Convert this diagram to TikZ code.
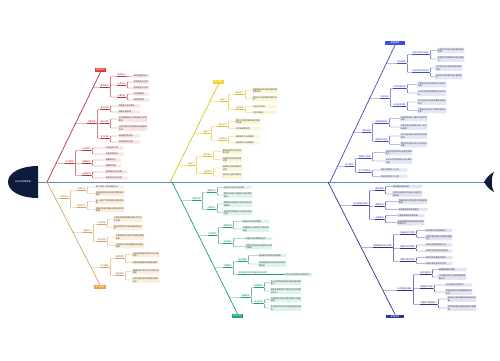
\documentclass[tikz,border=0pt]{standalone}
\usepackage{fontspec}
\setmainfont{Noto Sans CJK SC}
\XeTeXlinebreaklocale "zh"
\XeTeXlinebreakskip = 0pt plus 0.5pt
\usepackage{xcolor}
\usepackage{tikz}

\definecolor{headc}{HTML}{0F1B3D}
\definecolor{spinec}{HTML}{5B8CC2}
\definecolor{rline}{HTML}{B8373A}
\definecolor{rtagc}{HTML}{E53935}
\definecolor{rfill}{HTML}{FBE3E3}
\definecolor{oline}{HTML}{D9A462}
\definecolor{otagc}{HTML}{F2A23C}
\definecolor{ofill}{HTML}{FDEEDC}
\definecolor{yline}{HTML}{E2C21F}
\definecolor{ytagc}{HTML}{F5D324}
\definecolor{yfill}{HTML}{FCF6D6}
\definecolor{gline}{HTML}{1E9E78}
\definecolor{gtagc}{HTML}{16A57A}
\definecolor{gfill}{HTML}{DDF4EA}
\definecolor{bline}{HTML}{3F4EBF}
\definecolor{btagc}{HTML}{3E4FD6}
\definecolor{bfill}{HTML}{E3E7FA}
\definecolor{nline}{HTML}{2E3192}
\definecolor{ntagc}{HTML}{2B3399}
\definecolor{nfill}{HTML}{E2E3F5}

\begin{document}
\begin{tikzpicture}[
  x=1pt, y=-1pt,
  font=\fontsize{2}{2.5}\selectfont,
  tag/.style={fill=#1, text=white, inner xsep=1.2pt, inner ysep=0.9pt, font=\fontsize{2.2}{2.6}\selectfont},
  bone/.style={draw=#1, line width=0.7pt},
  lnk/.style={draw=#1, line width=0.35pt, rounded corners=0.8pt},
  mid/.style={anchor=south west, inner xsep=0.4pt, inner ysep=0.5pt, text=#1!65!black,
    append after command={(\tikzlastnode.south west) edge[draw=#1, line width=0.35pt] (\tikzlastnode.south east)}},
  leaf/.style={anchor=west, fill=#1, rounded corners=0.4pt, inner sep=0.6pt, align=left, text width=26pt, text=black!75},
  rmid/.style={mid=rline}, rl/.style={lnk=rline}, rleaf/.style={leaf=rfill},
  omid/.style={mid=oline}, ol/.style={lnk=oline}, oleaf/.style={leaf=ofill},
  ymid/.style={mid=yline}, yl/.style={lnk=yline}, yleaf/.style={leaf=yfill},
  gmid/.style={mid=gline}, gl/.style={lnk=gline}, gleaf/.style={leaf=gfill},
  bmid/.style={mid=bline}, bl/.style={lnk=bline}, bleaf/.style={leaf=bfill},
  nmid/.style={mid=nline}, nl/.style={lnk=nline}, nleaf/.style={leaf=nfill}
]
\fill[white] (0,0) rectangle (500,360);
\useasboundingbox (0,0) rectangle (500,360);

% spine, head and tail
\coordinate (sp) at (38,182);
\coordinate (tl) at (486,182);
\draw[spinec, line width=0.6pt] (sp) -- (tl);
\fill[headc] (38,166) -- (38,198) .. controls (20,198) and (8,191) .. (8,182) .. controls (8,173) and (20,166) .. (38,166);
\node[text=white, font=\fontsize{2.2}{2.6}\selectfont] (hd) at (23,182) {知识点思维导图};
\fill[headc] (484,182) .. controls (487,177) and (490,174) .. (494,172) .. controls (491,177) and (491,187) .. (494,192) .. controls (490,190) and (487,187) .. (484,182);

% ---------------- red
\coordinate (rj) at (47,182);
\node[tag=rtagc] (r) at (100.5,70) {基础知识};
\draw[bone=rline] (rj) -- (r.south);

\node[rmid] (r1) at (100,87.5) {基本概念};
\node[rmid] (r1a) at (117,76.5) {基本定义};
\node[rmid] (r1b) at (117,85) {分类方法};
\node[rmid] (r1c) at (117,97) {主要特征};
\node[rleaf, text width=14.6pt] (r1a1) at (133,76) {概念的基本定义};
\node[rleaf, text width=14.6pt] (r1b1) at (133,82) {按性质进行分类};
\node[rleaf, text width=14.6pt] (r1b2) at (133,88) {按用途进行分类};
\node[rleaf, text width=14.6pt] (r1c1) at (133,94) {具有普遍性};
\node[rleaf, text width=14.6pt] (r1c2) at (133,100) {具有规律性};

\node[rmid] (r2) at (87,123.5) {主要内容};
\node[rmid] (r2a) at (100,109.5) {重点内容};
\node[rmid] (r2b) at (100,123.5) {难点内容};
\node[rmid] (r2c) at (100,138.5) {考点内容};
\node[rleaf, text width=20.6pt] (r2a1) at (118,106) {掌握核心知识要点};
\node[rleaf, text width=20.6pt] (r2a2) at (118,112) {理解主要原理};
\node[rleaf, text width=28pt] (r2b1) at (118,119) {区分相近概念之间的联系与区别要点};
\node[rleaf, text width=28pt] (r2b2) at (118,128) {分析问题产生的原因并找出解决办法};
\node[rleaf, text width=20.6pt] (r2c1) at (118,136) {基础题型的考查};
\node[rleaf, text width=20.6pt] (r2c2) at (118,142) {综合题型的考查};

\node[rmid] (r3) at (65,163.5) {学习要求};
\node[rmid] (r3a) at (82,150.5) {识记层次};
\node[rmid] (r3b) at (82,163.5) {理解层次};
\node[rmid] (r3c) at (82,175.5) {运用层次};
\node[rleaf, text width=17pt] (r3a1) at (105,148) {记住基本公式};
\node[rleaf, text width=17pt] (r3a2) at (105,154) {记住常用结论};
\node[rleaf, text width=14.6pt] (r3b1) at (105,160) {理解其含义};
\node[rleaf, text width=14.6pt] (r3b2) at (105,166) {理解其作用};
\node[rleaf, text width=21pt] (r3c1) at (105,172) {能够解决实际问题};
\node[rleaf, text width=21pt] (r3c2) at (105,178) {能够进行知识迁移};

\coordinate (r1j) at (intersection of rj--r.south and r1.south west--r1.south east);
\coordinate (r2j) at (intersection of rj--r.south and r2.south west--r2.south east);
\coordinate (r3j) at (intersection of rj--r.south and r3.south west--r3.south east);
\draw[rl] (r1j) -- (r1.south west);
\draw[rl] (r2j) -- (r2.south west);
\draw[rl] (r3j) -- (r3.south west);
\foreach \nd in {r1a,r1b,r1c} \draw[rl] (r1.south east) -- ++(1.2,0) |- (\nd.south west);
\foreach \nd in {r2a,r2b,r2c} \draw[rl] (r2.south east) -- ++(1.2,0) |- (\nd.south west);
\foreach \nd in {r3a,r3b,r3c} \draw[rl] (r3.south east) -- ++(1.2,0) |- (\nd.south west);
\draw[rl] (r1a.south east) -- (r1a1.west);
\foreach \nd in {r1b1,r1b2} \draw[rl] (r1b.south east) -- ++(1.2,0) |- (\nd.west);
\foreach \nd in {r1c1,r1c2} \draw[rl] (r1c.south east) -- ++(1.2,0) |- (\nd.west);
\foreach \nd in {r2a1,r2a2} \draw[rl] (r2a.south east) -- ++(1.2,0) |- (\nd.west);
\foreach \nd in {r2b1,r2b2} \draw[rl] (r2b.south east) -- ++(1.2,0) |- (\nd.west);
\foreach \nd in {r2c1,r2c2} \draw[rl] (r2c.south east) -- ++(1.2,0) |- (\nd.west);
\foreach \nd in {r3a1,r3a2} \draw[rl] (r3a.south east) -- ++(1.2,0) |- (\nd.west);
\foreach \nd in {r3b1,r3b2} \draw[rl] (r3b.south east) -- ++(1.2,0) |- (\nd.west);
\foreach \nd in {r3c1,r3c2} \draw[rl] (r3c.south east) -- ++(1.2,0) |- (\nd.west);

% ---------------- orange
\coordinate (oj) at (47,182);
\node[tag=otagc] (o) at (100,287) {方法技巧};
\draw[bone=oline] (oj) -- (o.north);

\node[omid] (o1) at (60,198.5) {常用方法};
\node[omid] (o1a) at (77,190.5) {归纳方法};
\node[omid] (o1b) at (77,207.5) {演绎方法};
\node[oleaf, text width=28pt] (o1a1) at (95,187) {由个别到一般的推理方法};
\node[oleaf, text width=28pt] (o1a2) at (95,193.5) {总结规律并形成系统完整的知识框架};
\node[oleaf, text width=28pt] (o1b1) at (95,201.5) {由一般到个别的推理过程及其应用};
\node[oleaf, text width=28pt] (o1b2) at (95,209.5) {根据已知条件推出正确的结论和答案};

\node[omid] (o2) at (83,232.5) {解题技巧};
\node[omid] (o2a) at (97,224.5) {认真审题};
\node[omid] (o2b) at (97,241.5) {规范答题};
\node[oleaf, text width=28pt] (o2a1) at (113,219) {认真阅读题目明确已知条件与所求问题};
\node[oleaf, text width=28pt] (o2a2) at (113,227.5) {找出题目中的关键词语和隐含条件};
\node[oleaf, text width=28pt] (o2b1) at (115,237) {步骤清晰书写规范完整表达解题思路};
\node[oleaf, text width=28pt] (o2b2) at (115,245.5) {注意检查计算过程避免出现粗心错误};

\node[omid] (o3) at (100,267.5) {复习策略};
\node[omid] (o3a) at (115,258.5) {整理错题};
\node[omid] (o3b) at (115,275.5) {构建框架};
\node[oleaf] (o3a1) at (132,254.5) {分析错误原因并及时订正总结经验};
\node[oleaf] (o3a2) at (132,262.5) {定期回顾重做巩固提高效果};
\node[oleaf] (o3b1) at (132,271.5) {梳理各章节知识点之间的内在联系};
\node[oleaf] (o3b2) at (132,280) {形成完整的知识网络体系便于记忆};

\coordinate (o1j) at (intersection of oj--o.north and o1.south west--o1.south east);
\coordinate (o2j) at (intersection of oj--o.north and o2.south west--o2.south east);
\coordinate (o3j) at (intersection of oj--o.north and o3.south west--o3.south east);
\draw[ol] (o1j) -- (o1.south west);
\draw[ol] (o2j) -- (o2.south west);
\draw[ol] (o3j) -- (o3.south west);
\foreach \nd in {o1a,o1b} \draw[ol] (o1.south east) -- ++(1.2,0) |- (\nd.south west);
\foreach \nd in {o2a,o2b} \draw[ol] (o2.south east) -- ++(1.2,0) |- (\nd.south west);
\foreach \nd in {o3a,o3b} \draw[ol] (o3.south east) -- ++(1.2,0) |- (\nd.south west);
\foreach \nd in {o1a1,o1a2} \draw[ol] (o1a.south east) -- ++(1.2,0) |- (\nd.west);
\foreach \nd in {o1b1,o1b2} \draw[ol] (o1b.south east) -- ++(1.2,0) |- (\nd.west);
\foreach \nd in {o2a1,o2a2} \draw[ol] (o2a.south east) -- ++(1.2,0) |- (\nd.west);
\foreach \nd in {o2b1,o2b2} \draw[ol] (o2b.south east) -- ++(1.2,0) |- (\nd.west);
\foreach \nd in {o3a1,o3a2} \draw[ol] (o3a.south east) -- ++(1.2,0) |- (\nd.west);
\foreach \nd in {o3b1,o3b2} \draw[ol] (o3b.south east) -- ++(1.2,0) |- (\nd.west);

% ---------------- yellow
\coordinate (yj) at (170,182);
\node[tag=ytagc] (y) at (218.5,82) {核心概念};
\draw[bone=yline] (yj) -- (y.south);

\node[ymid] (y1) at (220,101.5) {概念一};
\node[ymid] (y1a) at (235,94.5) {基本含义};
\node[ymid] (y1b) at (235,109.5) {主要表现};
\node[yleaf, text width=24pt] (y1a1) at (252,90.5) {指事物本身所具有的基本属性和特点};
\node[yleaf, text width=24pt] (y1a2) at (252,98.5) {是区别于其他事物的根本标志};
\node[yleaf, text width=24pt] (y1b1) at (252,106.5) {外在形式多样};
\node[yleaf, text width=24pt] (y1b2) at (252,112.5) {内在本质统一};

\node[ymid] (y2) at (203,133.5) {概念二};
\node[ymid] (y2a) at (218,126.5) {基本含义};
\node[ymid] (y2b) at (218,140.5) {主要表现};
\node[yleaf, text width=24pt] (y2a1) at (235,121.5) {事物之间相互联系相互作用的关系};
\node[yleaf, text width=24pt] (y2a2) at (235,128.5) {关系具有客观性};
\node[yleaf, text width=24pt] (y2b1) at (235,136.5) {因果联系与条件联系};
\node[yleaf, text width=24pt] (y2b2) at (235,143) {直接联系与间接联系};

\node[ymid] (y3) at (188,165.5) {概念三};
\node[ymid] (y3a) at (203,156.5) {基本含义};
\node[ymid] (y3b) at (203,173.5) {主要表现};
\node[yleaf, text width=19pt] (y3a1) at (222,151.5) {事物发展变化的趋势和过程};
\node[yleaf, text width=19pt] (y3a2) at (222,159.5) {由量变到质变的发展过程};
\node[yleaf, text width=19pt] (y3b1) at (222,168) {新事物代替旧事物的过程};
\node[yleaf, text width=19pt] (y3b2) at (222,176) {前进性与曲折性相统一};

\coordinate (y1j) at (intersection of yj--y.south and y1.south west--y1.south east);
\coordinate (y2j) at (intersection of yj--y.south and y2.south west--y2.south east);
\coordinate (y3j) at (intersection of yj--y.south and y3.south west--y3.south east);
\draw[yl] (y1j) -- (y1.south west);
\draw[yl] (y2j) -- (y2.south west);
\draw[yl] (y3j) -- (y3.south west);
\foreach \nd in {y1a,y1b} \draw[yl] (y1.south east) -- ++(1.2,0) |- (\nd.south west);
\foreach \nd in {y2a,y2b} \draw[yl] (y2.south east) -- ++(1.2,0) |- (\nd.south west);
\foreach \nd in {y3a,y3b} \draw[yl] (y3.south east) -- ++(1.2,0) |- (\nd.south west);
\foreach \nd in {y1a1,y1a2} \draw[yl] (y1a.south east) -- ++(1.2,0) |- (\nd.west);
\foreach \nd in {y1b1,y1b2} \draw[yl] (y1b.south east) -- ++(1.2,0) |- (\nd.west);
\foreach \nd in {y2a1,y2a2} \draw[yl] (y2a.south east) -- ++(1.2,0) |- (\nd.west);
\foreach \nd in {y2b1,y2b2} \draw[yl] (y2b.south east) -- ++(1.2,0) |- (\nd.west);
\foreach \nd in {y3a1,y3a2} \draw[yl] (y3a.south east) -- ++(1.2,0) |- (\nd.west);
\foreach \nd in {y3b1,y3b2} \draw[yl] (y3b.south east) -- ++(1.2,0) |- (\nd.west);

% ---------------- green
\coordinate (gj) at (172,182);
\node[tag=gtagc] (g) at (237.5,316) {综合应用};
\draw[bone=gline] (gj) -- (g.north);

\node[gmid] (g1) at (192,200.5) {情境应用};
\node[gmid] (g1a) at (207,192.5) {情境分析};
\node[gmid] (g1b) at (207,209.5) {方案设计};
\node[gleaf, text width=28pt] (g1a1) at (223,187.5) {结合生活实际分析问题};
\node[gleaf, text width=28pt] (g1a2) at (223,195) {联系社会热点话题进行综合思考探究};
\node[gleaf, text width=28pt] (g1b1) at (223,204) {明确目标合理设计实验方案与步骤要求};
\node[gleaf, text width=28pt] (g1b2) at (223,212.5) {选择合适的器材与方法进行验证分析};

\node[gmid] (g2) at (208,235.5) {实验探究};
\node[gmid] (g2a) at (223,227.5) {数据处理};
\node[gmid] (g2b) at (223,243.5) {结论得出};
\node[gleaf] (g2a1) at (242,221.5) {整理并记录实验数据};
\node[gleaf] (g2a2) at (242,229) {运用图表分析数据之间的变化规律};
\node[gleaf] (g2b1) at (245,238.5) {根据分析结果得出结论};
\node[gleaf] (g2b2) at (245,246.5) {评价实验结论的合理性与可靠性程度};

\node[gmid] (g3) at (223,267.5) {问题解决};
\node[gmid] (g3a) at (238,261.5) {提出措施};
\node[gmid] (g3b) at (238,274.5) {综合运用所学知识解决实际问题};
\node[gleaf, text width=27pt] (g3a1) at (258,255.5) {提出解决问题的具体措施};
\node[gleaf, text width=27pt] (g3a2) at (258,264) {评估措施的可行性及其实际效果如何};
\node[gleaf] (g3b1) at (285,274.5) {提升分析和解决问题的能力};

\node[gmid] (g4) at (241,297.5) {拓展提升};
\node[gmid] (g4a) at (254,287.5) {拓展探究};
\node[gmid] (g4b) at (254,303.5) {交流反思};
\node[gleaf, text width=30pt] (g4a1) at (270,282.5) {设计开放性探究活动培养创新思维能力};
\node[gleaf, text width=30pt] (g4a2) at (270,291) {鼓励多角度思考问题寻找不同的解决方法};
\node[gleaf, text width=30pt] (g4b1) at (270,299.5) {分享探究过程与成果互相学习借鉴经验};
\node[gleaf, text width=30pt] (g4b2) at (270,308) {反思探究中的不足并提出改进的建议};

\coordinate (g1j) at (intersection of gj--g.north and g1.south west--g1.south east);
\coordinate (g2j) at (intersection of gj--g.north and g2.south west--g2.south east);
\coordinate (g3j) at (intersection of gj--g.north and g3.south west--g3.south east);
\coordinate (g4j) at (intersection of gj--g.north and g4.south west--g4.south east);
\draw[gl] (g1j) -- (g1.south west);
\draw[gl] (g2j) -- (g2.south west);
\draw[gl] (g3j) -- (g3.south west);
\draw[gl] (g4j) -- (g4.south west);
\foreach \nd in {g1a,g1b} \draw[gl] (g1.south east) -- ++(1.2,0) |- (\nd.south west);
\foreach \nd in {g2a,g2b} \draw[gl] (g2.south east) -- ++(1.2,0) |- (\nd.south west);
\foreach \nd in {g3a,g3b} \draw[gl] (g3.south east) -- ++(1.2,0) |- (\nd.south west);
\foreach \nd in {g4a,g4b} \draw[gl] (g4.south east) -- ++(1.2,0) |- (\nd.south west);
\foreach \nd in {g1a1,g1a2} \draw[gl] (g1a.south east) -- ++(1.2,0) |- (\nd.west);
\foreach \nd in {g1b1,g1b2} \draw[gl] (g1b.south east) -- ++(1.2,0) |- (\nd.west);
\foreach \nd in {g2a1,g2a2} \draw[gl] (g2a.south east) -- ++(1.2,0) |- (\nd.west);
\foreach \nd in {g2b1,g2b2} \draw[gl] (g2b.south east) -- ++(1.2,0) |- (\nd.west);
\foreach \nd in {g3a1,g3a2} \draw[gl] (g3a.south east) -- ++(1.2,0) |- (\nd.west);
\draw[gl] (g3b.south east) -- (g3b1.west);
\foreach \nd in {g4a1,g4a2} \draw[gl] (g4a.south east) -- ++(1.2,0) |- (\nd.west);
\foreach \nd in {g4b1,g4b2} \draw[gl] (g4b.south east) -- ++(1.2,0) |- (\nd.west);

% ---------------- blue
\coordinate (bj) at (330,182);
\node[tag=btagc, minimum width=20pt] (b) at (395,43) {拓展延伸};
\draw[bone=bline] (bj) -- (b.south);

\node[bmid] (b1) at (397,63.5) {知识拓展};
\node[bmid] (b1a) at (412,54.5) {相关学科知识链接};
\node[bmid] (b1b) at (412,72.5) {生活实际中的应用};
\node[bleaf] (b1a1) at (437,50.5) {与其他学科知识相互联系融合贯通};
\node[bleaf] (b1a2) at (437,59) {拓宽知识视野提高综合运用能力};
\node[bleaf] (b1b1) at (435,68) {在日常生活中发现并解决相关问题};
\node[bleaf] (b1b2) at (435,76.5) {体会知识的实用价值与重要意义};

\node[bmid] (b2) at (380,98.5) {科学史话};
\node[bmid] (b2a) at (393,88.5) {科学发展历程};
\node[bmid] (b2b) at (393,106.5) {前沿研究进展};
\node[bleaf, text width=28pt] (b2a1) at (417,84.5) {了解相关科学发现的历史背景与过程};
\node[bleaf, text width=28pt] (b2a2) at (417,93) {认识科学家的探索精神与研究方法};
\node[bleaf, text width=28pt] (b2b1) at (417,102) {关注当前科学研究的最新成果与动态};
\node[bleaf, text width=28pt] (b2b2) at (417,110.5) {了解新技术在各个领域中的实际应用};

\node[bmid] (b3) at (362,132.5) {课外拓展};
\node[bmid] (b3a) at (375,123.5) {阅读拓展材料};
\node[bmid] (b3b) at (375,141.5) {实践探究活动};
\node[bleaf] (b3a1) at (400,118.5) {阅读相关课外书籍与科普文章资料};
\node[bleaf] (b3a2) at (400,127) {积累丰富的背景知识进一步开阔视野};
\node[bleaf] (b3b1) at (400,136) {参与社会调查与实践活动增强体验};
\node[bleaf] (b3b2) at (400,144.5) {撰写研究报告并交流分享探究成果};

\node[bmid] (b4) at (345,166.5) {能力提升};
\node[bmid] (b4a) at (358,158.5) {思维能力培养};
\node[bmid] (b4b) at (358,172.5) {学习习惯养成};
\node[bleaf] (b4a1) at (385,152.5) {培养批判性思维与创造性思维能力};
\node[bleaf] (b4a2) at (385,161) {学会从不同的角度分析与解决问题};
\node[bleaf] (b4b1) at (380,170) {制定合理的学习计划};
\node[bleaf] (b4b2) at (380,176.5) {养成良好的学习习惯};

\coordinate (b1j) at (intersection of bj--b.south and b1.south west--b1.south east);
\coordinate (b2j) at (intersection of bj--b.south and b2.south west--b2.south east);
\coordinate (b3j) at (intersection of bj--b.south and b3.south west--b3.south east);
\coordinate (b4j) at (intersection of bj--b.south and b4.south west--b4.south east);
\draw[bl] (b1j) -- (b1.south west);
\draw[bl] (b2j) -- (b2.south west);
\draw[bl] (b3j) -- (b3.south west);
\draw[bl] (b4j) -- (b4.south west);
\foreach \nd in {b1a,b1b} \draw[bl] (b1.south east) -- ++(1.2,0) |- (\nd.south west);
\foreach \nd in {b2a,b2b} \draw[bl] (b2.south east) -- ++(1.2,0) |- (\nd.south west);
\foreach \nd in {b3a,b3b} \draw[bl] (b3.south east) -- ++(1.2,0) |- (\nd.south west);
\foreach \nd in {b4a,b4b} \draw[bl] (b4.south east) -- ++(1.2,0) |- (\nd.south west);
\foreach \nd in {b1a1,b1a2} \draw[bl] (b1a.south east) -- ++(1.2,0) |- (\nd.west);
\foreach \nd in {b1b1,b1b2} \draw[bl] (b1b.south east) -- ++(1.2,0) |- (\nd.west);
\foreach \nd in {b2a1,b2a2} \draw[bl] (b2a.south east) -- ++(1.2,0) |- (\nd.west);
\foreach \nd in {b2b1,b2b2} \draw[bl] (b2b.south east) -- ++(1.2,0) |- (\nd.west);
\foreach \nd in {b3a1,b3a2} \draw[bl] (b3a.south east) -- ++(1.2,0) |- (\nd.west);
\foreach \nd in {b3b1,b3b2} \draw[bl] (b3b.south east) -- ++(1.2,0) |- (\nd.west);
\foreach \nd in {b4a1,b4a2} \draw[bl] (b4a.south east) -- ++(1.2,0) |- (\nd.west);
\foreach \nd in {b4b1,b4b2} \draw[bl] (b4b.south east) -- ++(1.2,0) |- (\nd.west);

% ---------------- navy
\coordinate (nj) at (328,182);
\node[tag=ntagc, minimum width=18pt] (n) at (395,316.5) {易错总结};
\draw[bone=nline] (nj) -- (n.north);

\node[nmid] (n1) at (353,205.5) {常见易错点归纳};
\node[nmid] (n1a) at (375,190.5) {概念混淆};
\node[nmid] (n1b) at (375,206.5) {审题不清};
\node[nmid] (n1c) at (375,219.5) {计算失误};
\node[nleaf, text width=29pt] (n1a1) at (392,186.5) {相近概念容易混淆};
\node[nleaf, text width=29pt] (n1a2) at (392,194) {注意区分概念的内涵与外延并举例说明};
\node[nleaf, text width=28pt] (n1b1) at (398,201.5) {忽略题目中的隐含条件导致答题错误};
\node[nleaf, text width=28pt] (n1b2) at (398,209.5) {未看清题目的具体要求};
\node[nleaf] (n1c1) at (397,215.5) {计算步骤跳跃导致出错};
\node[nleaf] (n1c2) at (397,222.5) {单位换算错误及结果未化简到最简形式};

\node[nmid] (n2) at (373,247.5) {错误原因分析与对策};
\node[nmid] (n2a) at (400,234.5) {基础知识不牢固};
\node[nmid] (n2b) at (400,248.5) {解题方法不熟练};
\node[nmid] (n2c) at (400,261.5) {答题习惯不规范};
\node[nleaf] (n2a1) at (425,230.5) {回归课本夯实基础知识};
\node[nleaf] (n2a2) at (425,237.5) {加强对基本概念与原理的理解记忆};
\node[nleaf] (n2b1) at (425,245) {归纳总结常用解题方法};
\node[nleaf] (n2b2) at (425,251) {加强专项训练提升熟练度};
\node[nleaf] (n2c1) at (425,257.5) {规范书写答题格式要求};
\node[nleaf] (n2c2) at (425,263.5) {养成认真检查的好习惯};

\node[nmid] (n3) at (397,290.5) {针对性提升建议};
\node[nmid] (n3a) at (420,274.5) {建立错题本};
\node[nmid] (n3b) at (420,288.5) {定期复习巩固};
\node[nmid] (n3c) at (420,304.5) {加强练习提高能力};
\node[nleaf, text width=27pt] (n3a1) at (438,269.5) {收集整理典型错题};
\node[nleaf, text width=27pt] (n3a2) at (438,277) {分析错因并标注正确的解题思路方法};
\node[nleaf] (n3b1) at (445,285) {按计划进行阶段复习};
\node[nleaf] (n3b2) at (445,292) {查漏补缺及时巩固薄弱的知识环节};
\node[nleaf, text width=28pt] (n3c1) at (447,299) {精选练习题目提高训练效率与质量};
\node[nleaf, text width=28pt] (n3c2) at (447,308) {限时训练提升答题的速度与准确率};

\coordinate (n1j) at (intersection of nj--n.north and n1.south west--n1.south east);
\coordinate (n2j) at (intersection of nj--n.north and n2.south west--n2.south east);
\coordinate (n3j) at (intersection of nj--n.north and n3.south west--n3.south east);
\draw[nl] (n1j) -- (n1.south west);
\draw[nl] (n2j) -- (n2.south west);
\draw[nl] (n3j) -- (n3.south west);
\foreach \nd in {n1a,n1b,n1c} \draw[nl] (n1.south east) -- ++(1.2,0) |- (\nd.south west);
\foreach \nd in {n2a,n2b,n2c} \draw[nl] (n2.south east) -- ++(1.2,0) |- (\nd.south west);
\foreach \nd in {n3a,n3b,n3c} \draw[nl] (n3.south east) -- ++(1.2,0) |- (\nd.south west);
\foreach \nd in {n1a1,n1a2} \draw[nl] (n1a.south east) -- ++(1.2,0) |- (\nd.west);
\foreach \nd in {n1b1,n1b2} \draw[nl] (n1b.south east) -- ++(1.2,0) |- (\nd.west);
\foreach \nd in {n1c1,n1c2} \draw[nl] (n1c.south east) -- ++(1.2,0) |- (\nd.west);
\foreach \nd in {n2a1,n2a2} \draw[nl] (n2a.south east) -- ++(1.2,0) |- (\nd.west);
\foreach \nd in {n2b1,n2b2} \draw[nl] (n2b.south east) -- ++(1.2,0) |- (\nd.west);
\foreach \nd in {n2c1,n2c2} \draw[nl] (n2c.south east) -- ++(1.2,0) |- (\nd.west);
\foreach \nd in {n3a1,n3a2} \draw[nl] (n3a.south east) -- ++(1.2,0) |- (\nd.west);
\foreach \nd in {n3b1,n3b2} \draw[nl] (n3b.south east) -- ++(1.2,0) |- (\nd.west);
\foreach \nd in {n3c1,n3c2} \draw[nl] (n3c.south east) -- ++(1.2,0) |- (\nd.west);

\end{tikzpicture}
\end{document}
